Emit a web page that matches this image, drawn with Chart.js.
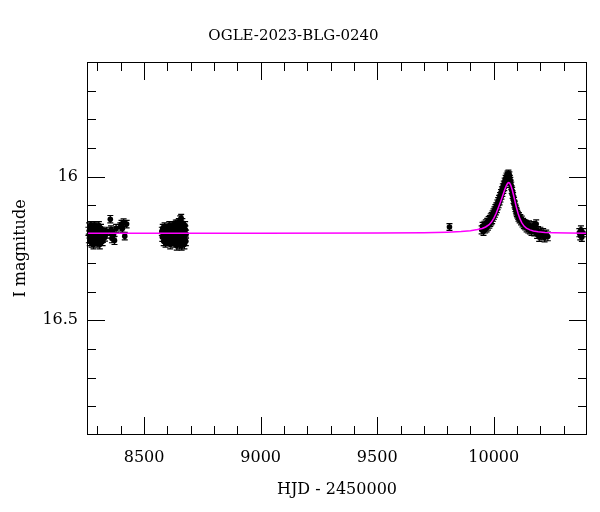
<!DOCTYPE html>
<html lang="en">
<head>
    <meta charset="UTF-8">
    <title>OGLE-2023-BLG-0240</title>
    <script src="https://cdn.jsdelivr.net/npm/chart.js"></script>
    <style>
        body { margin: 0; background: #fff; }
    </style>
</head>
<body>
    <canvas id="lightCurve" width="600" height="512"></canvas>
    <script>
        // [HJD - 2450000, I mag, error]
        const season2018 = [
            [8261,16.19,0.014],[8263,16.215,0.015],[8264,16.175,0.014],[8266,16.20,0.014],[8267,16.225,0.015],
            [8268,16.185,0.014],[8270,16.215,0.015],[8271,16.17,0.014],[8272,16.195,0.014],[8274,16.205,0.014],
            [8275,16.23,0.015],[8276,16.18,0.014],[8278,16.20,0.014],[8279,16.175,0.014],[8280,16.22,0.015],
            [8282,16.19,0.014],[8283,16.235,0.016],[8284,16.21,0.014],[8286,16.195,0.014],[8287,16.17,0.014],
            [8288,16.205,0.014],[8290,16.185,0.014],[8291,16.225,0.015],[8292,16.215,0.014],[8294,16.20,0.014],
            [8295,16.175,0.014],[8296,16.19,0.014],[8298,16.21,0.014],[8299,16.23,0.015],[8300,16.18,0.014],
            [8302,16.205,0.014],[8303,16.185,0.014],[8305,16.225,0.015],[8306,16.17,0.014],[8308,16.195,0.014],
            [8310,16.235,0.016],[8311,16.20,0.014],[8314,16.21,0.014],[8315,16.18,0.014],[8317,16.19,0.014],
            [8320,16.20,0.014],[8322,16.225,0.015],[8323,16.215,0.014],[8326,16.205,0.014],[8329,16.195,0.014],
            [8332,16.21,0.014],[8336,16.20,0.014],[8340,16.19,0.014],[8355,16.148,0.013],[8358,16.185,0.014],
            [8360,16.20,0.014],[8362,16.215,0.015],[8364,16.19,0.014],[8369,16.20,0.014],[8373,16.222,0.014],
            [8380,16.18,0.014],[8398,16.175,0.014],[8403,16.165,0.013],[8407,16.18,0.014],[8412,16.16,0.013],
            [8417,16.207,0.013],[8425,16.165,0.013]
        ];
        const season2019 = [
            [8576,16.19,0.014],[8578,16.21,0.015],[8580,16.18,0.014],[8582,16.20,0.014],[8584,16.225,0.015],
            [8586,16.185,0.014],[8588,16.175,0.014],[8590,16.21,0.014],[8592,16.23,0.015],[8594,16.195,0.014],
            [8596,16.18,0.014],[8598,16.205,0.014],[8600,16.225,0.015],[8602,16.18,0.014],[8604,16.215,0.014],
            [8606,16.20,0.014],[8608,16.17,0.014],[8610,16.215,0.014],[8612,16.235,0.016],[8614,16.19,0.014],
            [8616,16.175,0.014],[8618,16.205,0.014],[8620,16.225,0.015],[8622,16.195,0.014],[8624,16.17,0.014],
            [8626,16.21,0.014],[8628,16.23,0.015],[8630,16.185,0.014],[8632,16.175,0.014],[8634,16.20,0.014],
            [8636,16.165,0.014],[8638,16.22,0.014],[8640,16.24,0.016],[8641,16.19,0.014],[8643,16.165,0.014],
            [8644,16.175,0.014],[8646,16.225,0.015],[8647,16.205,0.014],[8649,16.16,0.014],[8650,16.17,0.014],
            [8652,16.235,0.016],[8653,16.21,0.014],[8655,16.15,0.014],[8656,16.165,0.014],[8658,16.19,0.014],
            [8659,16.145,0.014],[8661,16.24,0.016],[8662,16.18,0.014],[8664,16.16,0.014],[8665,16.225,0.015],
            [8667,16.175,0.014],[8668,16.20,0.014],[8670,16.215,0.015],[8671,16.19,0.014],[8673,16.235,0.016],
            [8674,16.215,0.014],[8676,16.17,0.014],[8677,16.185,0.014],[8679,16.225,0.015],[8680,16.20,0.014]
        ];
        const season2022 = [
            [9810,16.175,0.012]
        ];
        const season2023 = [
            [9948,16.185,0.014],[9952,16.172,0.013],[9956,16.19,0.014],[9960,16.168,0.013],[9963,16.182,0.014],
            [9966,16.163,0.013],[9969,16.178,0.014],[9972,16.158,0.013],[9975,16.172,0.014],[9978,16.152,0.013],
            [9981,16.165,0.014],[9983,16.148,0.013],[9985,16.16,0.013],[9987,16.142,0.013],[9989,16.155,0.013],
            [9991,16.138,0.013],[9993,16.15,0.013],[9995,16.132,0.013],[9997,16.142,0.013],[9999,16.125,0.013],
            [10001,16.135,0.013],[10003,16.118,0.013],[10005,16.128,0.013],[10007,16.11,0.013],[10009,16.12,0.013],
            [10011,16.104,0.013],[10013,16.112,0.013],[10015,16.094,0.013],[10017,16.102,0.013],[10019,16.086,0.013],
            [10021,16.095,0.013],[10023,16.078,0.013],[10025,16.085,0.013],[10027,16.068,0.013],[10029,16.075,0.013],
            [10031,16.058,0.013],[10033,16.065,0.013],[10035,16.048,0.013],[10037,16.055,0.013],[10039,16.038,0.013],
            [10041,16.045,0.013],[10043,16.028,0.013],[10045,16.035,0.013],[10047,16.018,0.013],[10049,16.024,0.013],
            [10051,16.008,0.013],[10053,16.014,0.013],[10055,16.0,0.013],[10057,16.006,0.013],[10059,15.993,0.013],
            [10061,15.998,0.013],[10063,15.99,0.013],[10065,16.0,0.013],[10067,15.996,0.013],[10069,16.008,0.013],
            [10071,16.015,0.013],[10073,16.025,0.013],[10075,16.032,0.013],[10077,16.045,0.013],[10079,16.05,0.013],
            [10081,16.062,0.013],[10083,16.068,0.013],[10085,16.08,0.013],[10087,16.085,0.013],[10089,16.095,0.013],
            [10091,16.1,0.013],[10093,16.108,0.013],[10095,16.114,0.013],[10097,16.12,0.013],[10099,16.125,0.013],
            [10101,16.13,0.013],[10104,16.135,0.013],[10106,16.142,0.013],[10108,16.138,0.013],[10111,16.148,0.013],
            [10114,16.145,0.013],[10117,16.155,0.013],[10120,16.15,0.013],[10123,16.162,0.013],[10126,16.158,0.013],
            [10129,16.168,0.013],[10132,16.162,0.013],[10135,16.172,0.013],[10138,16.165,0.013],[10141,16.178,0.014],
            [10144,16.17,0.014],[10148,16.182,0.014],[10151,16.168,0.014],[10155,16.185,0.014],[10158,16.175,0.014],
            [10162,16.19,0.014],[10166,16.18,0.014],[10170,16.17,0.014],[10174,16.192,0.014],[10178,16.182,0.014],
            [10182,16.165,0.015],[10186,16.2,0.015],[10190,16.188,0.014],[10195,16.21,0.015],[10200,16.19,0.014],
            [10206,16.205,0.015],[10212,16.195,0.014],[10218,16.212,0.015],[10225,16.2,0.014],[10232,16.208,0.015]
        ];
        const season2024 = [
            [10367,16.195,0.014],[10371,16.205,0.015],[10374,16.185,0.014],[10378,16.21,0.015],[10383,16.195,0.014]
        ];
        // model curve
        const modelHjd = [8255, 9000, 9500, 9700, 9800, 9860, 9900, 9930, 9950, 9965, 9980, 9990, 10000, 10010,
            10020, 10030, 10040, 10048, 10055, 10060, 10064, 10068, 10073, 10080, 10088, 10096, 10104, 10112,
            10120, 10130, 10140, 10155, 10170, 10190, 10220, 10260, 10320, 10400];
        const modelMag = [16.197, 16.197, 16.196, 16.195, 16.193, 16.191, 16.188, 16.184, 16.18, 16.175, 16.167,
            16.158, 16.145, 16.128, 16.107, 16.085, 16.062, 16.043, 16.029, 16.022, 16.02, 16.022, 16.03, 16.048,
            16.075, 16.103, 16.127, 16.146, 16.16, 16.172, 16.179, 16.185, 16.189, 16.192, 16.194, 16.195,
            16.196, 16.197];

        const xMajor = [8500, 9000, 9500, 10000];
        const yMajor = [16, 16.5];
        const xRange = [8255, 10400];
        const yRange = [15.6, 16.9];

        const FONT = "'DejaVu Serif', serif";
        Chart.defaults.color = '#000';

        function toPoints(rows) {
            return rows.map(r => ({ x: r[0], y: r[1], err: r[2] }));
        }

        // error bars under the points
        const errorBars = {
            id: 'errorBars',
            beforeDatasetsDraw(chart) {
                const ctx = chart.ctx;
                const xs = chart.scales.x, ys = chart.scales.y;
                ctx.save();
                ctx.strokeStyle = '#000';
                ctx.lineWidth = 1.2;
                chart.data.datasets.forEach(ds => {
                    if (ds.showLine) return;
                    ds.data.forEach(p => {
                        const px = xs.getPixelForValue(p.x);
                        const y1 = ys.getPixelForValue(p.y - p.err);
                        const y2 = ys.getPixelForValue(p.y + p.err);
                        ctx.beginPath();
                        ctx.moveTo(px, y1); ctx.lineTo(px, y2);
                        ctx.moveTo(px - 3, y1); ctx.lineTo(px + 3, y1);
                        ctx.moveTo(px - 3, y2); ctx.lineTo(px + 3, y2);
                        ctx.stroke();
                    });
                });
                ctx.restore();
            }
        };

        // box frame with inward ticks on all four sides
        const frame = {
            id: 'frame',
            afterDraw(chart) {
                const ctx = chart.ctx;
                const a = chart.chartArea;
                const xs = chart.scales.x, ys = chart.scales.y;
                ctx.save();
                ctx.strokeStyle = '#000';
                ctx.lineWidth = 1;
                ctx.strokeRect(a.left + 0.5, a.top + 0.5, a.right - a.left - 1, a.bottom - a.top - 1);
                ctx.beginPath();
                for (let v = 8300; v <= 10300; v += 100) {
                    const len = v % 500 === 0 ? 18 : 9;
                    const px = Math.round(xs.getPixelForValue(v)) + 0.5;
                    ctx.moveTo(px, a.bottom); ctx.lineTo(px, a.bottom - len);
                    ctx.moveTo(px, a.top); ctx.lineTo(px, a.top + len);
                }
                for (let i = 157; i <= 168; i++) {
                    const v = i / 10;
                    const len = i % 5 === 0 ? 18 : 9;
                    const py = Math.round(ys.getPixelForValue(v)) + 0.5;
                    ctx.moveTo(a.left, py); ctx.lineTo(a.left + len, py);
                    ctx.moveTo(a.right, py); ctx.lineTo(a.right - len, py);
                }
                ctx.stroke();
                ctx.restore();
            }
        };

        const pointStyle = {
            type: 'scatter',
            pointRadius: 2.8,
            pointBackgroundColor: '#000',
            pointBorderColor: '#000',
            pointBorderWidth: 0,
            order: 1
        };

        const ctx = document.getElementById('lightCurve').getContext('2d');
        new Chart(ctx, {
            type: 'scatter',
            data: {
                datasets: [
                    {
                        label: 'model',
                        data: modelHjd.map((x, i) => ({ x: x, y: modelMag[i] })),
                        showLine: true,
                        borderColor: '#ff00ff',
                        borderWidth: 1.5,
                        pointRadius: 0,
                        order: 0
                    },
                    Object.assign({ label: '2018', data: toPoints(season2018) }, pointStyle),
                    Object.assign({ label: '2019', data: toPoints(season2019) }, pointStyle),
                    Object.assign({ label: '2022', data: toPoints(season2022) }, pointStyle),
                    Object.assign({ label: '2023', data: toPoints(season2023) }, pointStyle),
                    Object.assign({ label: '2024', data: toPoints(season2024) }, pointStyle)
                ]
            },
            options: {
                responsive: false,
                animation: false,
                layout: { padding: { left: 0, right: 13, top: 0, bottom: 0 } },
                plugins: {
                    legend: { display: false },
                    tooltip: { enabled: false },
                    title: {
                        display: true,
                        text: 'OGLE-2023-BLG-0240',
                        font: { family: FONT, size: 15, weight: 'normal' },
                        padding: { top: 27, bottom: 17 }
                    }
                },
                scales: {
                    x: {
                        type: 'linear',
                        position: 'bottom',
                        min: xRange[0],
                        max: xRange[1],
                        grid: { display: false, drawTicks: false },
                        border: { display: false },
                        afterBuildTicks: s => { s.ticks = xMajor.map(v => ({ value: v })); },
                        afterFit: s => { s.height = 77; },
                        ticks: {
                            padding: 13,
                            maxRotation: 0,
                            autoSkip: false,
                            font: { family: FONT, size: 16 },
                            callback: v => String(v)
                        },
                        title: {
                            display: true,
                            text: 'HJD - 2450000',
                            font: { family: FONT, size: 16 },
                            padding: { top: 0, bottom: 13 }
                        }
                    },
                    y: {
                        type: 'linear',
                        position: 'left',
                        reverse: true,
                        min: yRange[0],
                        max: yRange[1],
                        grid: { display: false, drawTicks: false },
                        border: { display: false },
                        afterBuildTicks: s => { s.ticks = yMajor.map(v => ({ value: v })); },
                        afterFit: s => { s.width = 87; },
                        ticks: {
                            padding: 9,
                            autoSkip: false,
                            font: { family: FONT, size: 16 },
                            callback: v => String(v)
                        },
                        title: {
                            display: true,
                            text: 'I magnitude',
                            font: { family: FONT, size: 16 },
                            padding: { top: 11, bottom: 0 }
                        }
                    }
                }
            },
            plugins: [errorBars, frame]
        });
    </script>
</body>
</html>
